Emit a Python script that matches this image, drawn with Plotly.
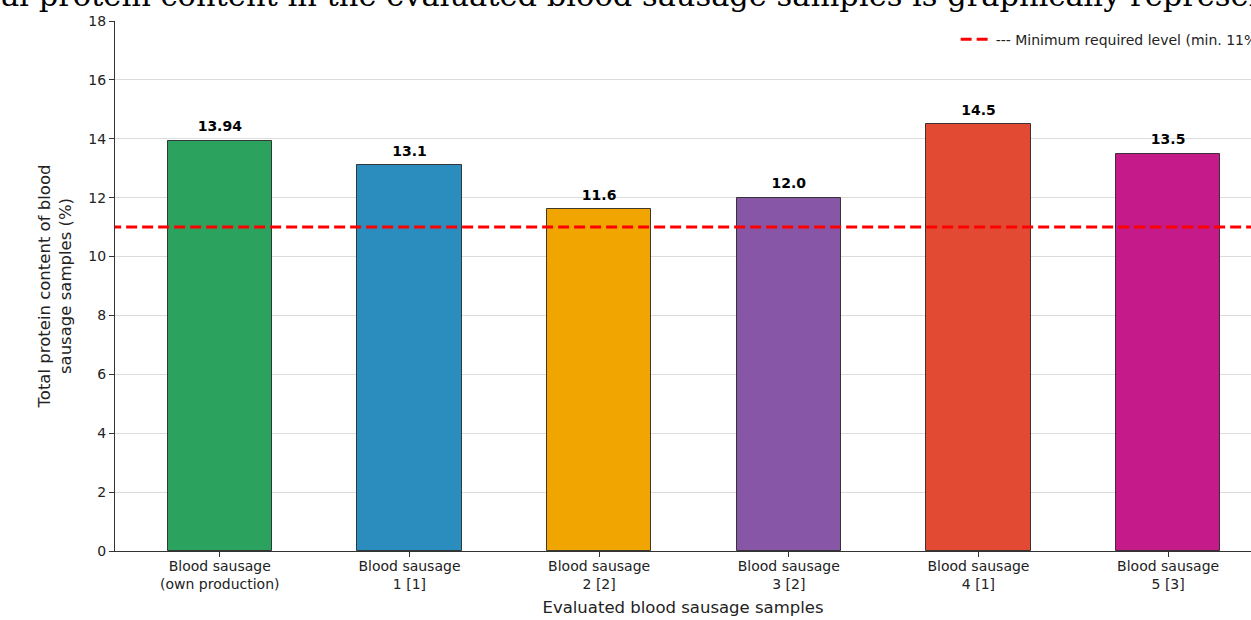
import plotly.graph_objects as go

categories = ["Blood sausage<br>(own production)", "Blood sausage<br>1 [1]", "Blood sausage<br>2 [2]",
              "Blood sausage<br>3 [2]", "Blood sausage<br>4 [1]", "Blood sausage<br>5 [3]"]
protein = [13.94, 13.1, 11.6, 12.0, 14.5, 13.5]
value_labels = ["13.94", "13.1", "11.6", "12.0", "14.5", "13.5"]
bar_colors = ["#2ca25f", "#2b8cbe", "#f0a500", "#8856a7", "#e34a33", "#c51b8a"]
min_level = 11
y_ticks = [0, 2, 4, 6, 8, 10, 12, 14, 16, 18]

xpos = list(range(len(categories)))
label_y = [v + 0.2 for v in protein]

fig = go.Figure()
fig.add_trace(go.Bar(
    x=xpos, y=protein, width=0.55,
    marker=dict(color=bar_colors, line=dict(color="rgba(30,30,30,0.85)", width=1)),
    showlegend=False, hoverinfo="skip",
))
fig.add_trace(go.Scatter(
    x=xpos, y=label_y, mode="text", text=value_labels, textposition="top center",
    textfont=dict(family="DejaVu Sans", size=14, color="black", weight="bold"),
    showlegend=False, hoverinfo="skip",
))
fig.add_trace(go.Scatter(
    x=[-1, 6], y=[min_level, min_level], mode="lines",
    line=dict(color="#ff0000", width=3, dash="11px,5px"),
    name="--- Minimum required level (min. 11%)",
))

fig.add_annotation(
    text="al protein content in the evaluated blood sausage samples is graphically represented",
    xref="paper", yref="paper", x=-115/1136 - 0.001, y=1 + 25/530, xanchor="left", yanchor="middle",
    showarrow=False, font=dict(family="DejaVu Serif", size=30.5, color="black"),
)

fig.update_layout(
    width=1251, height=620,
    margin=dict(l=115, r=0, t=21, b=69, autoexpand=False),
    plot_bgcolor="white", paper_bgcolor="white",
    font=dict(family="DejaVu Sans", size=14, color="#222"),
    bargap=0,
    legend=dict(x=0.74, y=0.995, xanchor="left", yanchor="top", bgcolor="rgba(0,0,0,0)",
                font=dict(size=14, color="#222")),
    xaxis=dict(
        range=[-0.5525, 5.437], tickmode="array", tickvals=xpos, ticktext=categories,
        showline=True, linecolor="#333", linewidth=1, ticks="outside", ticklen=5, tickcolor="#333",
        showgrid=False, zeroline=False, tickfont=dict(size=14), ticklabelstandoff=-3,
        title=dict(text="Evaluated blood sausage samples", font=dict(size=16.5), standoff=10),
    ),
    yaxis=dict(
        range=[0, 18], tickmode="array", tickvals=y_ticks, tickfont=dict(size=14),
        showline=True, linecolor="#333", linewidth=1, ticks="outside", ticklen=5, tickcolor="#333",
        showgrid=True, gridcolor="#dcdcdc", gridwidth=1, zeroline=False,
        title=dict(text="Total protein content of blood<br>sausage samples (%)", font=dict(size=16.5), standoff=12),
    ),
)

fig.write_html("out.html", config={"displayModeBar": False},
               post_script="document.body.style.margin='0';document.body.style.overflow='hidden';")
